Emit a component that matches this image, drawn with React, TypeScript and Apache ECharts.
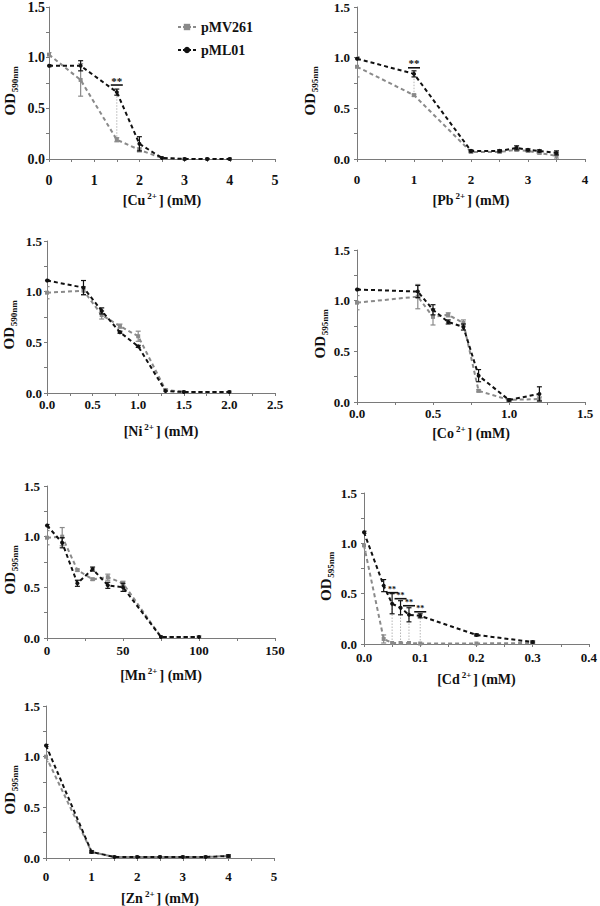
import React, { useEffect, useRef } from 'react';
import * as echarts from 'echarts';

const FONT = '"Liberation Serif", "Times New Roman", serif';
const GRAY = '#8a8a8a';
const BLACK = '#111111';
const AXIS = '#7a7a7a';

// ---------- data ----------
const cuX = [0, 0.7, 1.5, 2.0, 2.5, 3.0, 3.5, 4.0];
const cuMV = [1.03, 0.78, 0.19, 0.09, 0.01, 0.0, 0.0, 0.0];
const cuMVErr = [0.02, 0.16, 0.02, 0.02, 0, 0, 0, 0];
const cuML = [0.92, 0.92, 0.66, 0.15, 0.01, 0.0, 0.0, 0.0];
const cuMLErr = [0.01, 0.05, 0.03, 0.07, 0, 0, 0, 0];
const cuSigX = [1.5];
const cuSigBar = [0.73];

const pbX = [0, 1, 2, 2.5, 2.8, 3.0, 3.2, 3.5];
const pbMV = [0.91, 0.63, 0.07, 0.07, 0.09, 0.08, 0.06, 0.03];
const pbMVErr = [0.1, 0.01, 0.01, 0.01, 0.01, 0.01, 0.01, 0.03];
const pbML = [0.99, 0.84, 0.08, 0.08, 0.11, 0.09, 0.08, 0.06];
const pbMLErr = [0.01, 0.03, 0.01, 0.01, 0.02, 0.01, 0.01, 0.02];
const pbSigX = [1];
const pbSigBar = [0.9];

const niX = [0, 0.4, 0.6, 0.8, 1.0, 1.3, 1.5, 2.0];
const niMV = [0.99, 1.01, 0.77, 0.66, 0.56, 0.03, 0.01, 0.01];
const niMVErr = [0.06, 0.04, 0.04, 0.02, 0.05, 0.01, 0, 0];
const niML = [1.11, 1.04, 0.81, 0.6, 0.46, 0.02, 0.01, 0.01];
const niMLErr = [0.01, 0.07, 0.03, 0.01, 0.01, 0, 0, 0];

const coX = [0, 0.4, 0.5, 0.6, 0.7, 0.8, 1.0, 1.2];
const coMV = [0.98, 1.04, 0.84, 0.86, 0.78, 0.11, 0.02, 0.03];
const coMVErr = [0.07, 0.12, 0.08, 0.02, 0.03, 0.01, 0.01, 0.02];
const coML = [1.11, 1.09, 0.91, 0.79, 0.74, 0.26, 0.02, 0.08];
const coMLErr = [0.01, 0.06, 0.05, 0.02, 0.03, 0.06, 0.01, 0.07];

const mnX = [0, 10, 20, 30, 40, 50, 75, 100];
const mnMV = [0.99, 1.0, 0.67, 0.58, 0.6, 0.54, 0.01, 0.01];
const mnMVErr = [0.07, 0.09, 0.01, 0.01, 0.03, 0.02, 0, 0.01];
const mnML = [1.11, 0.94, 0.54, 0.68, 0.52, 0.5, 0.01, 0.01];
const mnMLErr = [0.01, 0.05, 0.03, 0.02, 0.03, 0.04, 0, 0];

const cdX = [0, 0.035, 0.05, 0.065, 0.08, 0.1, 0.2, 0.3];
const cdMV = [0.98, 0.05, 0.01, 0.01, 0.01, 0.005, 0.005, 0.01];
const cdMVErr = [0.06, 0.04, 0, 0, 0, 0, 0, 0];
const cdML = [1.11, 0.58, 0.4, 0.36, 0.29, 0.28, 0.09, 0.02];
const cdMLErr = [0.01, 0.06, 0.1, 0.07, 0.07, 0.02, 0.01, 0.01];
const cdSigX = [0.05, 0.065, 0.08, 0.1];
const cdSigBar = [0.51, 0.45, 0.38, 0.32];

const znX = [0, 1, 1.5, 2, 2.5, 3, 3.5, 4];
const znMV = [1.0, 0.06, 0.01, 0.01, 0.01, 0.01, 0.01, 0.02];
const znMVErr = [0.05, 0.01, 0, 0, 0, 0, 0, 0.01];
const znML = [1.11, 0.06, 0.01, 0.01, 0.01, 0.01, 0.01, 0.02];
const znMLErr = [0.01, 0.01, 0, 0, 0, 0, 0, 0.01];

const yTicks = [0, 0.5, 1.0, 1.5];

const panels = [
  { ion: 'Cu', od: '590nm', x: cuX, mv: cuMV, mvErr: cuMVErr, ml: cuML, mlErr: cuMLErr, xMax: 5, xInt: 1, dec: 0, sigX: cuSigX, sigBar: cuSigBar },
  { ion: 'Pb', od: '595nm', x: pbX, mv: pbMV, mvErr: pbMVErr, ml: pbML, mlErr: pbMLErr, xMax: 4, xInt: 1, dec: 0, sigX: pbSigX, sigBar: pbSigBar },
  { ion: 'Ni', od: '590nm', x: niX, mv: niMV, mvErr: niMVErr, ml: niML, mlErr: niMLErr, xMax: 2.5, xInt: 0.5, dec: 1, sigX: [], sigBar: [] },
  { ion: 'Co', od: '595nm', x: coX, mv: coMV, mvErr: coMVErr, ml: coML, mlErr: coMLErr, xMax: 1.5, xInt: 0.5, dec: 1, sigX: [], sigBar: [] },
  { ion: 'Mn', od: '595nm', x: mnX, mv: mnMV, mvErr: mnMVErr, ml: mnML, mlErr: mnMLErr, xMax: 150, xInt: 50, dec: 0, sigX: [], sigBar: [] },
  { ion: 'Cd', od: '595nm', x: cdX, mv: cdMV, mvErr: cdMVErr, ml: cdML, mlErr: cdMLErr, xMax: 0.4, xInt: 0.1, dec: 1, sigX: cdSigX, sigBar: cdSigBar },
  { ion: 'Zn', od: '595nm', x: znX, mv: znMV, mvErr: znMVErr, ml: znML, mlErr: znMLErr, xMax: 5, xInt: 1, dec: 0, sigX: [], sigBar: [] },
];

// ---------- layout ----------
const layouts = [
  { left: 49, top: 7, width: 226, height: 152, yLabGap: 4, xLabGap: 14, nameGap: 32, ylX: 10, fs: 14, starFs: 11 },
  { left: 357, top: 7, width: 228, height: 152, yLabGap: 7, xLabGap: 14, nameGap: 32, ylX: 310, fs: 13, starFs: 11 },
  { left: 47, top: 241, width: 228, height: 152, yLabGap: 5, xLabGap: 5, nameGap: 29, ylX: 9, fs: 13, starFs: 10 },
  { left: 357, top: 250, width: 228, height: 152, yLabGap: 7, xLabGap: 5, nameGap: 22, ylX: 320, fs: 13, starFs: 10 },
  { left: 47, top: 486, width: 228, height: 152, yLabGap: 7, xLabGap: 6, nameGap: 28, ylX: 10, fs: 13, starFs: 10 },
  { left: 364, top: 493, width: 228, height: 151, yLabGap: 7, xLabGap: 7, nameGap: 26, ylX: 326, fs: 13, starFs: 8 },
  { left: 46, top: 706, width: 228, height: 152, yLabGap: 6, xLabGap: 12, nameGap: 31, ylX: 10, fs: 13, starFs: 10 },
];

function errRenderer(color: string) {
  return (params: any, api: any) => {
    const x = api.value(0);
    const y = api.value(1);
    const e = api.value(2);
    if (!(e > 0)) return null;
    const top = api.coord([x, y + e]);
    const bot = api.coord([x, Math.max(0, y - e)]);
    const w = 2.5;
    const st = { stroke: color, lineWidth: 1.2 };
    return {
      type: 'group',
      children: [
        { type: 'line', shape: { x1: top[0], y1: top[1], x2: bot[0], y2: bot[1] }, style: st },
        { type: 'line', shape: { x1: top[0] - w, y1: top[1], x2: top[0] + w, y2: top[1] }, style: st },
        { type: 'line', shape: { x1: bot[0] - w, y1: bot[1], x2: bot[0] + w, y2: bot[1] }, style: st },
      ],
    };
  };
}

function sigRenderer(starFs: number) {
  return (params: any, api: any) => {
    const x = api.value(0);
    const p1 = api.coord([x, api.value(1)]);
    const p2 = api.coord([x, api.value(2)]);
    const pb = api.coord([x, api.value(3)]);
    return {
      type: 'group',
      children: [
        { type: 'line', shape: { x1: p1[0], y1: p1[1], x2: p2[0], y2: p2[1] }, style: { stroke: '#b5b5b5', lineWidth: 1, lineDash: [1.5, 1.5] } },
        { type: 'line', shape: { x1: pb[0] - 6, y1: pb[1], x2: pb[0] + 6, y2: pb[1] }, style: { stroke: BLACK, lineWidth: 1.6 } },
        {
          type: 'text',
          x: pb[0],
          y: pb[1] + 1,
          style: { text: '**', align: 'center', verticalAlign: 'bottom', fontFamily: FONT, fontWeight: 'bold', fontSize: starFs, fill: BLACK },
        },
      ],
    };
  };
}

export default function App() {
  const ref = useRef<HTMLDivElement>(null);
  useEffect(() => {
    if (!ref.current) return;
    const chart = echarts.init(ref.current, undefined, { renderer: 'svg' });

    const grid: any[] = [];
    const xAxis: any[] = [];
    const yAxis: any[] = [];
    const series: any[] = [];
    const graphic: any[] = [];

    panels.forEach((p, i) => {
      const L = layouts[i];
      grid.push({ left: L.left, top: L.top, width: L.width, height: L.height });
      const tickStyle = { color: AXIS, width: 1 };
      xAxis.push({
        type: 'value', gridIndex: i, min: 0, max: p.xMax, interval: p.xInt,
        axisLine: { show: true, onZero: false, lineStyle: tickStyle },
        axisTick: { show: true, length: 3, lineStyle: tickStyle },
        minorTick: { show: true, splitNumber: 2, length: 3, lineStyle: tickStyle },
        splitLine: { show: false },
        axisLabel: {
          margin: L.xLabGap, color: BLACK, fontFamily: FONT, fontWeight: 'bold', fontSize: L.fs,
          formatter: (v: number) => v.toFixed(p.dec),
        },
        name: `{n|[${p.ion}}{s|2+}{n|] (mM)}`,
        nameLocation: 'middle',
        nameGap: L.nameGap,
        nameTextStyle: {
          rich: {
            n: { fontFamily: FONT, fontWeight: 'bold', fontSize: 14, color: BLACK, lineHeight: 18 },
            s: { fontFamily: FONT, fontWeight: 'bold', fontSize: 9, color: BLACK, verticalAlign: 'top', padding: [0, 2, 0, 2] },
          },
        },
      });
      yAxis.push({
        type: 'value', gridIndex: i, min: 0, max: 1.5, interval: 0.5,
        axisLine: { show: true, onZero: false, lineStyle: tickStyle },
        axisTick: { show: true, length: 3, lineStyle: tickStyle },
        minorTick: { show: true, splitNumber: 2, length: 3, lineStyle: tickStyle },
        splitLine: { show: false },
        axisLabel: {
          margin: L.yLabGap, color: BLACK, fontFamily: FONT, fontWeight: 'bold', fontSize: L.fs,
          formatter: (v: number) => (yTicks.indexOf(v) >= 0 ? v.toFixed(1) : ''),
        },
      });

      const mvData = p.x.map((v, j) => [v, p.mv[j]]);
      const mlData = p.x.map((v, j) => [v, p.ml[j]]);
      series.push({
        type: 'line', name: 'pMV261', xAxisIndex: i, yAxisIndex: i, data: mvData,
        symbol: 'rect', symbolSize: 4, z: 2,
        lineStyle: { color: GRAY, width: 2, type: [4, 3] }, itemStyle: { color: GRAY },
      });
      series.push({
        type: 'line', name: 'pML01', xAxisIndex: i, yAxisIndex: i, data: mlData,
        symbol: 'circle', symbolSize: 4, z: 3,
        lineStyle: { color: BLACK, width: 2, type: [4, 3] }, itemStyle: { color: BLACK },
      });
      series.push({
        type: 'custom', xAxisIndex: i, yAxisIndex: i, z: 2, clip: true,
        data: p.x.map((v, j) => [v, p.mv[j], p.mvErr[j]]),
        encode: { x: 0, y: 1 },
        renderItem: errRenderer(GRAY),
      });
      series.push({
        type: 'custom', xAxisIndex: i, yAxisIndex: i, z: 3, clip: true,
        data: p.x.map((v, j) => [v, p.ml[j], p.mlErr[j]]),
        encode: { x: 0, y: 1 },
        renderItem: errRenderer(BLACK),
      });
      if (p.sigX.length) {
        series.push({
          type: 'custom', xAxisIndex: i, yAxisIndex: i, z: 1,
          itemStyle: { color: BLACK },
          data: p.sigX.map((sx, k) => {
            const j = p.x.indexOf(sx);
            return [sx, p.mv[j], p.ml[j], p.sigBar[k]];
          }),
          encode: { x: 0, y: 1 },
          renderItem: sigRenderer(L.starFs),
        });
      }

      // y-axis title: OD with subscript
      const yc = L.top + L.height * (1 - 0.54 / 1.5);
      graphic.push({
        type: 'text', x: L.ylX, y: yc, rotation: Math.PI / 2,
        style: { text: 'OD', align: 'center', verticalAlign: 'middle', fontFamily: FONT, fontWeight: 'bold', fontSize: 15, fill: BLACK },
      });
      graphic.push({
        type: 'text', x: L.ylX + 5, y: yc - 25, rotation: Math.PI / 2,
        style: { text: p.od, align: 'center', verticalAlign: 'middle', fontFamily: FONT, fontWeight: 'bold', fontSize: 9, fill: BLACK },
      });
    });

    chart.setOption({
      animation: false,
      backgroundColor: '#ffffff',
      grid, xAxis, yAxis, series, graphic,
      legend: {
        data: ['pMV261', 'pML01'],
        orient: 'vertical', left: 172, top: 15,
        itemWidth: 18, itemHeight: 8, itemGap: 9,
        lineStyle: { type: [3, 2], width: 2 },
        textStyle: { fontFamily: FONT, fontWeight: 'bold', fontSize: 14, color: BLACK },
        selectedMode: false,
      },
    });
    return () => chart.dispose();
  }, []);
  return <div ref={ref} style={{ position: 'absolute', left: 0, top: 0, width: 600, height: 906 }} />;
}
